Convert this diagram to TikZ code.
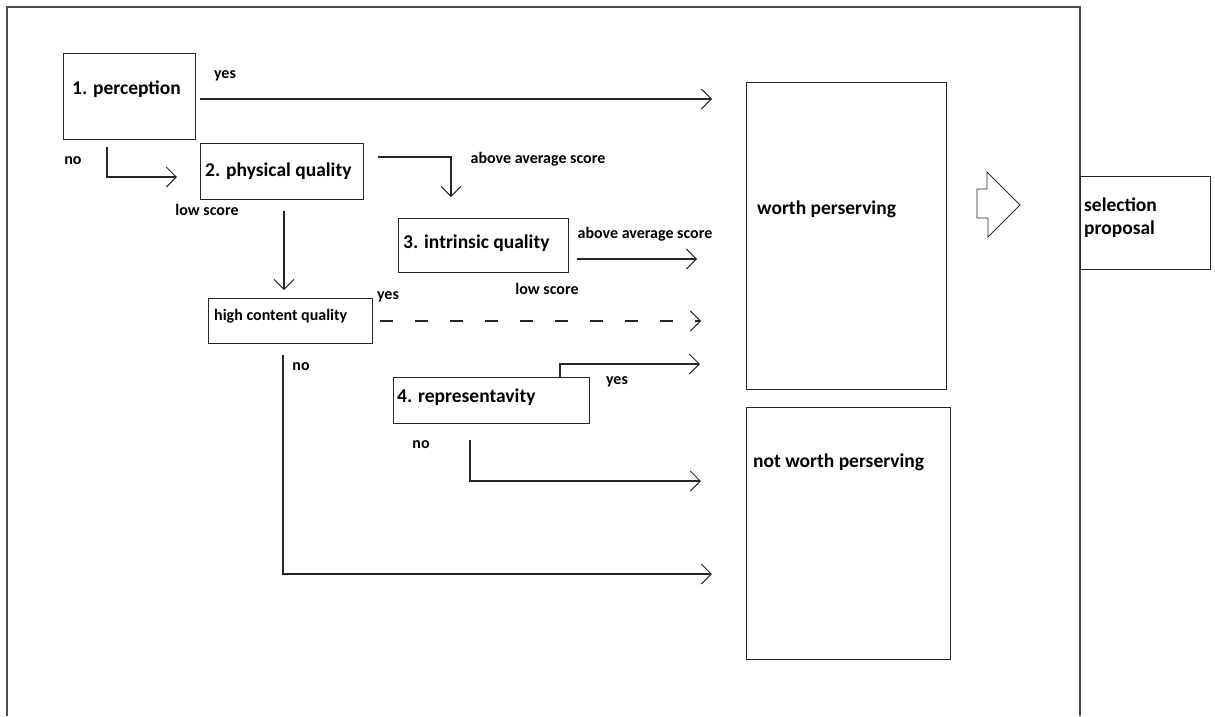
\documentclass[tikz,border=0pt]{standalone}
\usepackage{fontspec}
\setmainfont{Carlito}
\usetikzlibrary{arrows.meta}

\tikzset{
	box/.style={draw=black!85, line width=1.2pt, anchor=north west, inner sep=0pt},
	big/.style={font=\bfseries\fontsize{19.5}{23}\selectfont, inner sep=0pt, anchor=west, align=left},
	small/.style={font=\bfseries\fontsize{16}{18}\selectfont, inner sep=0pt, text height=11pt, text depth=3pt},
	flow/.style={draw=black!85, line width=1.2pt, -{Straight Barb[length=10pt,width=20pt,line width=1pt]}}
}

\begin{document}
\begin{tikzpicture}[x=1pt,y=-1pt]
		\useasboundingbox (0,0) rectangle (1215,716);
		\draw[black!70, line width=1.3pt] (7,716) -- (7,7) -- (1080,7) -- (1080,716);
		
		\node[box, minimum width=132pt, minimum height=86pt] (perc) at (63,53) {};
		\node[big] (percT) at (72,89) {1. perception};
		\node[box, minimum width=163pt, minimum height=56pt] (phys) at (200,143) {};
		\node[big] (physT) at (205,171) {2. physical quality};
		\node[box, minimum width=170pt, minimum height=54pt] (intr) at (398,218) {};
		\node[big] (intrT) at (403,243) {3. intrinsic quality};
		\node[box, minimum width=164pt, minimum height=45pt] (high) at (208,298) {};
		\node[small, anchor=west] (highT) at (214,316) {high content quality};
		\node[box, minimum width=196pt, minimum height=46pt] (repr) at (393,377) {};
		\node[big] (reprT) at (397,397) {4. representavity};
		
		\node[box, minimum width=200pt, minimum height=307pt] (worth) at (746,82) {};
		\node[big] (worthT) at (757,209) {worth perserving};
		\node[box, minimum width=204pt, minimum height=252pt] (notw) at (746,407) {};
		\node[big] (notwT) at (753,462) {not worth perserving};
		\node[box, minimum width=130pt, minimum height=93pt] (sel) at (1080,176) {};
		\node[big] (selT) at (1084,218) {selection\\proposal};
		
		\draw[black!85, line width=0.9pt] (977,189) -- (987,189) -- (987,172) -- (1020,205) -- (988,237) -- (988,218) -- (977,218) -- cycle;
		
		\coordinate (percYes) at (200,99);
		\coordinate (percYesEnd) at (712,99);
		\draw[flow] (percYes) -- (percYesEnd);
		\node[small] (yes1) at (225,74) {yes};
		
		\coordinate (percNo) at (107,147);
		\coordinate (physIn) at (177,177);
		\draw[flow] (percNo) |- (physIn);
		\node[small] (no1) at (73,160) {no};
		
		\coordinate (physUp) at (378,157);
		\coordinate (intrIn) at (451,197);
		\draw[flow] (physUp) -| (intrIn);
		\node[small] (avg1) at (538,159) {above average score};
		
		\coordinate (physLow) at (284,211);
		\coordinate (highIn) at (284,290);
		\draw[flow] (physLow) -- (highIn);
		\node[small] (low1) at (207,211) {low score};
		
		\coordinate (intrUp) at (577,259);
		\coordinate (intrUpEnd) at (697,259);
		\draw[flow] (intrUp) -- (intrUpEnd);
		\node[small] (avg2) at (645,234) {above average score};
		\node[small] (low2) at (547,290) {low score};
		
		\coordinate (highYes) at (380,321);
		\coordinate (highYesEnd) at (701,321);
		\draw[flow, dash pattern=on 13pt off 22pt] (highYes) -- (highYesEnd);
		\node[small] (yes2) at (388,295) {yes};
		
		\coordinate (highNo) at (283,355);
		\coordinate (highNoEnd) at (712,574);
		\draw[flow] (highNo) |- (highNoEnd);
		\node[small] (no2) at (301,366) {no};
		
		\coordinate (reprYes) at (560,377);
		\coordinate (reprYesEnd) at (700,364);
		\draw[flow] (reprYes) |- (reprYesEnd);
		\node[small] (yes3) at (617,380) {yes};
		
		\coordinate (reprNo) at (470,440);
		\coordinate (reprNoEnd) at (701,481);
		\draw[flow] (reprNo) |- (reprNoEnd);
		\node[small] (no3) at (421,444) {no};
		\end{tikzpicture}
\end{document}
